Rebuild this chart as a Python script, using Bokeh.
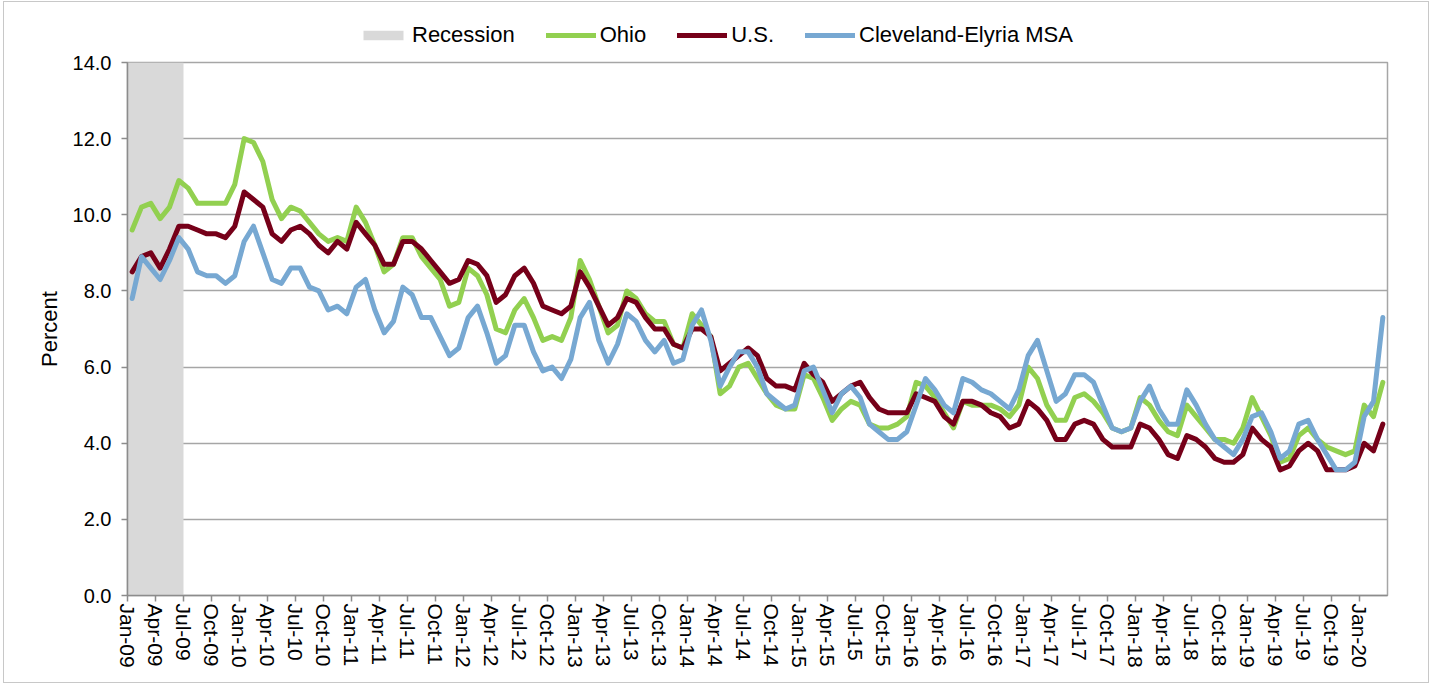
from bokeh.plotting import figure
from bokeh.layouts import column
from bokeh.models import FixedTicker, Legend, LegendItem, Range1d, NumeralTickFormatter
from bokeh.embed import file_html
from bokeh.resources import INLINE

MONTH_NAMES = ["Jan", "Feb", "Mar", "Apr", "May", "Jun", "Jul", "Aug", "Sep", "Oct", "Nov", "Dec"]
months = [f"{m}-{y:02d}" for y in range(9, 21) for m in MONTH_NAMES][:135]

tick_labels = ["Jan-09", "Apr-09", "Jul-09", "Oct-09", "Jan-10", "Apr-10", "Jul-10", "Oct-10",
               "Jan-11", "Apr-11", "Jul-11", "Oct-11", "Jan-12", "Apr-12", "Jul-12", "Oct-12",
               "Jan-13", "Apr-13", "Jul-13", "Oct-13", "Jan-14", "Apr-14", "Jul-14", "Oct-14",
               "Jan-15", "Apr-15", "Jul-15", "Oct-15", "Jan-16", "Apr-16", "Jul-16", "Oct-16",
               "Jan-17", "Apr-17", "Jul-17", "Oct-17", "Jan-18", "Apr-18", "Jul-18", "Oct-18",
               "Jan-19", "Apr-19", "Jul-19", "Oct-19", "Jan-20"]

recession_months = ["Jan-09", "Feb-09", "Mar-09", "Apr-09", "May-09", "Jun-09"]

ohio = [9.6, 10.2, 10.3, 9.9, 10.2, 10.9, 10.7, 10.3, 10.3, 10.3, 10.3, 10.8,
        12.0, 11.9, 11.4, 10.4, 9.9, 10.2, 10.1, 9.8, 9.5, 9.3, 9.4, 9.3,
        10.2, 9.8, 9.2, 8.5, 8.7, 9.4, 9.4, 8.9, 8.6, 8.3, 7.6, 7.7,
        8.6, 8.4, 7.9, 7.0, 6.9, 7.5, 7.8, 7.3, 6.7, 6.8, 6.7, 7.3,
        8.8, 8.3, 7.6, 6.9, 7.1, 8.0, 7.8, 7.4, 7.2, 7.2, 6.6, 6.5,
        7.4, 7.1, 6.8, 5.3, 5.5, 6.0, 6.1, 5.7, 5.3, 5.0, 4.9, 4.9,
        5.8, 5.7, 5.2, 4.6, 4.9, 5.1, 5.0, 4.5, 4.4, 4.4, 4.5, 4.7,
        5.6, 5.5, 5.2, 4.8, 4.4, 5.1, 5.0, 5.0, 5.0, 4.9, 4.7, 5.0,
        6.0, 5.7, 5.0, 4.6, 4.6, 5.2, 5.3, 5.1, 4.8, 4.4, 4.3, 4.4,
        5.2, 5.0, 4.6, 4.3, 4.2, 5.0, 4.7, 4.4, 4.1, 4.1, 4.0, 4.4,
        5.2, 4.7, 4.2, 3.5, 3.6, 4.2, 4.4, 4.1, 3.9, 3.8, 3.7, 3.8,
        5.0, 4.7, 5.6]

us = [8.5, 8.9, 9.0, 8.6, 9.1, 9.7, 9.7, 9.6, 9.5, 9.5, 9.4, 9.7,
      10.6, 10.4, 10.2, 9.5, 9.3, 9.6, 9.7, 9.5, 9.2, 9.0, 9.3, 9.1,
      9.8, 9.5, 9.2, 8.7, 8.7, 9.3, 9.3, 9.1, 8.8, 8.5, 8.2, 8.3,
      8.8, 8.7, 8.4, 7.7, 7.9, 8.4, 8.6, 8.2, 7.6, 7.5, 7.4, 7.6,
      8.5, 8.1, 7.6, 7.1, 7.3, 7.8, 7.7, 7.3, 7.0, 7.0, 6.6, 6.5,
      7.0, 7.0, 6.8, 5.9, 6.1, 6.3, 6.5, 6.3, 5.7, 5.5, 5.5, 5.4,
      6.1, 5.8, 5.6, 5.1, 5.3, 5.5, 5.6, 5.2, 4.9, 4.8, 4.8, 4.8,
      5.3, 5.2, 5.1, 4.7, 4.5, 5.1, 5.1, 5.0, 4.8, 4.7, 4.4, 4.5,
      5.1, 4.9, 4.6, 4.1, 4.1, 4.5, 4.6, 4.5, 4.1, 3.9, 3.9, 3.9,
      4.5, 4.4, 4.1, 3.7, 3.6, 4.2, 4.1, 3.9, 3.6, 3.5, 3.5, 3.7,
      4.4, 4.1, 3.9, 3.3, 3.4, 3.8, 4.0, 3.8, 3.3, 3.3, 3.3, 3.4,
      4.0, 3.8, 4.5]

cleveland = [7.8, 8.9, 8.6, 8.3, 8.8, 9.4, 9.1, 8.5, 8.4, 8.4, 8.2, 8.4,
             9.3, 9.7, 9.0, 8.3, 8.2, 8.6, 8.6, 8.1, 8.0, 7.5, 7.6, 7.4,
             8.1, 8.3, 7.5, 6.9, 7.2, 8.1, 7.9, 7.3, 7.3, 6.8, 6.3, 6.5,
             7.3, 7.6, 6.9, 6.1, 6.3, 7.1, 7.1, 6.4, 5.9, 6.0, 5.7, 6.2,
             7.3, 7.7, 6.7, 6.1, 6.6, 7.4, 7.2, 6.7, 6.4, 6.7, 6.1, 6.2,
             7.1, 7.5, 6.7, 5.5, 6.0, 6.4, 6.4, 6.0, 5.3, 5.1, 4.9, 5.0,
             5.9, 6.0, 5.4, 4.8, 5.3, 5.5, 5.2, 4.5, 4.3, 4.1, 4.1, 4.3,
             5.0, 5.7, 5.4, 5.0, 4.8, 5.7, 5.6, 5.4, 5.3, 5.1, 4.9, 5.4,
             6.3, 6.7, 5.9, 5.1, 5.3, 5.8, 5.8, 5.6, 5.0, 4.4, 4.3, 4.4,
             5.1, 5.5, 4.9, 4.5, 4.5, 5.4, 5.0, 4.5, 4.1, 3.9, 3.7, 4.1,
             4.7, 4.8, 4.3, 3.6, 3.8, 4.5, 4.6, 4.1, 3.7, 3.3, 3.3, 3.5,
             4.7, 5.1, 7.3]

y_ticks = [0, 2, 4, 6, 8, 10, 12, 14]

FONT = "Liberation Sans"
GRID = "#A6A6A6"
AXIS = "#8C8C8C"
C_OHIO, C_US, C_CLE, C_REC = "#92D050", "#760019", "#77A8D2", "#D9D9D9"
LW = 5
NAN = float("nan")

x = list(range(len(months)))

# ---------------- main chart ----------------
p = figure(width=1424, height=633, output_backend="svg", toolbar_location=None,
           x_range=Range1d(-0.5, len(months) - 0.5), y_range=Range1d(y_ticks[0], y_ticks[-1]),
           min_border_left=123, min_border_right=41, min_border_top=13, min_border_bottom=87)

rec_left = [months.index(recession_months[0]) - 0.5]
rec_right = [months.index(recession_months[-1]) + 0.5]
p.quad(left=rec_left, right=rec_right, top=y_ticks[-1], bottom=y_ticks[0],
       fill_color=C_REC, line_color=None)

p.line(x, ohio, line_color=C_OHIO, line_width=LW, line_join="round", line_cap="round")
p.line(x, us, line_color=C_US, line_width=LW, line_join="round", line_cap="round")
p.line(x, cleveland, line_color=C_CLE, line_width=LW, line_join="round", line_cap="round")

tick_pos = [months.index(t) - 0.5 for t in tick_labels]
xa = p.xaxis[0]
xa.ticker = FixedTicker(ticks=tick_pos)
xa.major_label_overrides = {tp: t for tp, t in zip(tick_pos, tick_labels)}
xa.major_label_orientation = "vertical"
xa.major_label_text_font = FONT
xa.major_label_text_font_size = "21px"
xa.major_label_text_color = "#000000"
xa.major_label_standoff = 2
xa.major_tick_out = 6
xa.major_tick_in = 0
xa.minor_tick_line_color = None
xa.axis_line_color = AXIS
xa.axis_line_width = 1.5
xa.major_tick_line_color = AXIS
xa.major_tick_line_width = 1.5

ya = p.yaxis[0]
ya.ticker = FixedTicker(ticks=y_ticks)
ya.formatter = NumeralTickFormatter(format="0.0")
ya.major_label_text_font = FONT
ya.major_label_text_font_size = "20px"
ya.major_label_text_color = "#000000"
ya.major_label_standoff = 10
ya.major_tick_out = 6
ya.major_tick_in = 0
ya.minor_tick_line_color = None
ya.axis_line_color = AXIS
ya.axis_line_width = 1.5
ya.major_tick_line_color = AXIS
ya.major_tick_line_width = 1.5
ya.axis_label = "Percent"
ya.axis_label_text_font = FONT
ya.axis_label_text_font_size = "22px"
ya.axis_label_text_font_style = "normal"
ya.axis_label_text_color = "#000000"
ya.axis_label_standoff = 8

p.xgrid.grid_line_color = None
p.ygrid.ticker = FixedTicker(ticks=y_ticks)
p.ygrid.grid_line_color = GRID
p.ygrid.grid_line_width = 1.5
p.outline_line_color = GRID
p.outline_line_width = 1.5

# ---------------- legend strip ----------------
lg = figure(width=1424, height=47, output_backend="svg", toolbar_location=None,
            x_axis_type=None, y_axis_type=None, x_range=Range1d(0, 1), y_range=Range1d(0, 1),
            min_border_left=0, min_border_right=0, min_border_top=0, min_border_bottom=0)
lg.outline_line_color = None
lg.xgrid.grid_line_color = None
lg.ygrid.grid_line_color = None
k_rec = lg.quad(left=[NAN], right=[NAN], top=[NAN], bottom=[NAN], fill_color=C_REC, line_color=None)
k_ohio = lg.line([NAN], [NAN], line_color=C_OHIO, line_width=LW, line_cap="round")
k_us = lg.line([NAN], [NAN], line_color=C_US, line_width=LW, line_cap="round")
k_cle = lg.line([NAN], [NAN], line_color=C_CLE, line_width=LW, line_cap="round")

legend = Legend(items=[LegendItem(label="Recession", renderers=[k_rec]),
                       LegendItem(label="Ohio", renderers=[k_ohio]),
                       LegendItem(label="U.S.", renderers=[k_us]),
                       LegendItem(label="Cleveland-Elyria MSA", renderers=[k_cle])],
                orientation="horizontal", location=(231, 1),
                label_text_font=FONT, label_text_font_size="22px", label_text_color="#000000",
                glyph_width=50, glyph_height=12, label_standoff=4, spacing=31,
                padding=0, margin=0, border_line_color=None, background_fill_alpha=0,
                label_height=22)
lg.add_layout(legend)

layout = column(lg, p, spacing=0,
                styles={"border": "1px solid #C8C8C8", "margin-left": "3px", "margin-top": "1px"})

open("out.html", "w").write(file_html(layout, INLINE))
